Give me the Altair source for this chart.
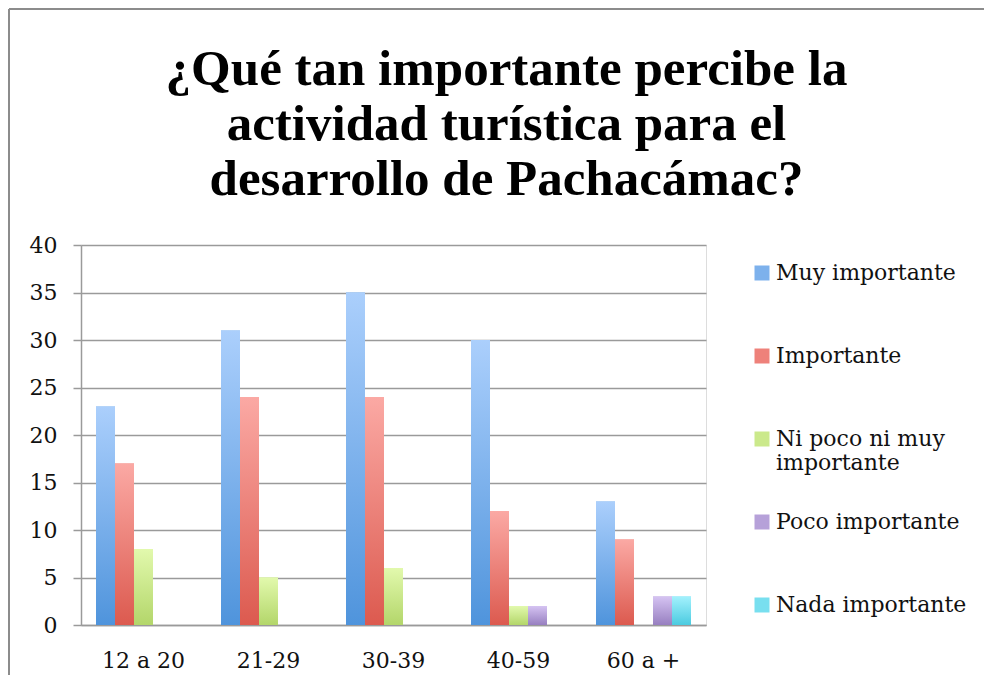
import altair as alt
import pandas as pd

categories = ["12 a 20", "21-29", "30-39", "40-59", "60 a +"]
series = ["Muy importante", "Importante", "Ni poco ni muy importante",
          "Poco importante", "Nada importante"]
muy_importante = [23, 31, 35, 30, 13]
importante = [17, 24, 24, 12, 9]
ni_poco_ni_muy = [8, 5, 6, 2, 0]
poco_importante = [0, 0, 0, 2, 3]
nada_importante = [0, 0, 0, 0, 3]
values_by_series = [muy_importante, importante, ni_poco_ni_muy,
                    poco_importante, nada_importante]

title_lines = ["¿Qué tan importante percibe la", "actividad turística para el",
               "desarrollo de Pachacámac?"]

top_colors = ["#abcffc", "#fba9a4", "#e2f9ad", "#d5c3f2", "#a3f1fd"]
bottom_colors = ["#4f94dc", "#dc5a4f", "#b3d66a", "#977fc0", "#4bcbe0"]
mid_colors = ["#7db1ec", "#ee817a", "#cbe98b", "#b6a1d9", "#78dfef"]

rows = []
for s, vals in zip(series, values_by_series):
    for c, v in zip(categories, vals):
        rows.append({"cat": c, "series": s, "value": v})
df = pd.DataFrame(rows)

SERIF = "DejaVu Serif"
GRID = "#9a9a9a"

x_enc = alt.X("cat:N", sort=categories, title=None,
              scale=alt.Scale(paddingInner=0.24, paddingOuter=0.12),
              axis=alt.Axis(labelFont=SERIF, labelFontSize=22, labelColor="#111",
                            labelAngle=0, ticks=False, labelPadding=25,
                            domainColor=GRID, domainWidth=1.5))
xoff_enc = alt.XOffset("series:N", sort=series,
                       scale=alt.Scale(domain=series, paddingInner=0, paddingOuter=0))
y_enc = alt.Y("value:Q", title=None,
              scale=alt.Scale(domain=[0, 40], nice=False),
              axis=alt.Axis(values=list(range(0, 41, 5)), labelFont=SERIF,
                            labelFontSize=22, labelColor="#111", tickSize=8,
                            tickColor=GRID, tickWidth=1.5, labelPadding=16,
                            domainColor=GRID, domainWidth=1.5,
                            gridColor=GRID, gridWidth=1.5))

frame_df = pd.DataFrame({"f": [0]})
frame_top = alt.Chart(frame_df).mark_rule(color="#8c8c8c", strokeWidth=2).encode(
    x=alt.value(-72), x2=alt.value(940), y=alt.value(-236))
frame_left = alt.Chart(frame_df).mark_rule(color="#8c8c8c", strokeWidth=2).encode(
    x=alt.value(-72), y=alt.value(-236), y2=alt.value(450))

base = alt.Chart(df).mark_bar().encode(
    x=x_enc, xOffset=xoff_enc, y=y_enc,
    color=alt.Color("series:N", sort=series,
                    scale=alt.Scale(domain=series, range=mid_colors),
                    legend=alt.Legend(
                        title=None, orient="none", legendX=670, legendY=17,
                        symbolType="square", symbolSize=225, symbolStrokeWidth=0,
                        labelFont=SERIF, labelFontSize=22, labelColor="#111",
                        labelLimit=300, labelOffset=3, rowPadding=37,
                        gridAlign="all",
                        labelExpr="datum.label == 'Ni poco ni muy importante' ? ['Ni poco ni muy', 'importante'] : datum.label")),
)

overlays = []
for s, t, b in zip(series, top_colors, bottom_colors):
    grad = alt.Gradient(gradient="linear",
                        stops=[alt.GradientStop(color=t, offset=0),
                               alt.GradientStop(color=b, offset=1)],
                        x1=0, x2=0, y1=0, y2=1)
    overlays.append(
        alt.Chart(df[df["series"] == s]).mark_bar(fill=grad).encode(
            x=x_enc, xOffset=xoff_enc, y=y_enc)
    )

chart = alt.layer(frame_top, frame_left, base, *overlays).properties(
    width=625, height=380,
    autosize=alt.AutoSizeParams(type="none"),
    padding={"left": 73, "top": 237, "right": 278, "bottom": 50},
    title=alt.TitleParams(text=title_lines, font="Liberation Serif", fontSize=51,
                          fontWeight="bold", color="#000", lineHeight=55,
                          baseline="alphabetic", anchor="middle", frame="group",
                          dx=113, offset=-238),
).configure_view(stroke=None).configure(background="white")

chart.save("out.html", embed_options={"renderer": "svg", "actions": False})
